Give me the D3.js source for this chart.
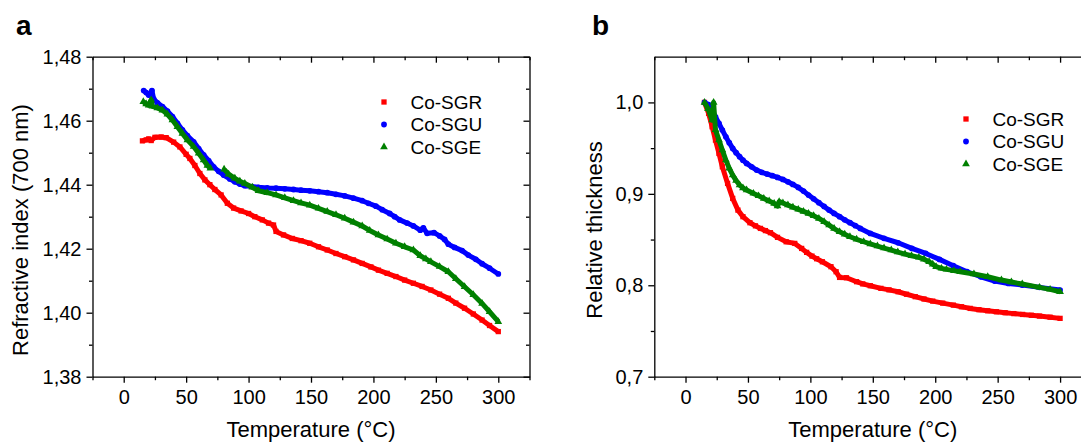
<!doctype html>
<html>
<head>
<meta charset="utf-8">
<style>
    body { margin: 0; background: #fff; }
    svg text { font-family: "Liberation Sans", Arial, sans-serif; fill: #000; }
    .domain { stroke: #000; stroke-width: 1.3; }
    .tick line { stroke: #000; stroke-width: 1.3; }
</style>
<script src="https://d3js.org/d3.v7.min.js"></script>
</head>
<body>
<svg width="1081" height="442"></svg>
<script>

// ---- data: [temperature (°C), value] ----
var seriesNames = ["Co-SGR", "Co-SGU", "Co-SGE"];
var seriesColors = ["#ff0000", "#0000ff", "#008000"];
var seriesShapes = ["square", "circle", "triangle"];

var xTicks = [0, 50, 100, 150, 200, 250, 300];
var yTicksA = [1.38, 1.40, 1.42, 1.44, 1.46, 1.48];
var yTicksB = [0.7, 0.8, 0.9, 1.0];

// panel a: refractive index at 700 nm
var indexSGR = [[15,1.4537],[18,1.4540],[20,1.4543],[22,1.4538],[25,1.4548],[30,1.4549],[34,1.4547],[40,1.4533],
    [45,1.4518],[50,1.4495],[53,1.4482],[57,1.4460],[61,1.4435],[65,1.4415],[69,1.4400],[73,1.4385],[78,1.4368],
    [83,1.4342],[88,1.4327],[94,1.4318],[100,1.4310],[105,1.4300],[111,1.4290],[116,1.4280],[120,1.4274],[122,1.4254],
    [128,1.4243],[135,1.4232],[142,1.4225],[149,1.4217],[156,1.4206],[163,1.4196],[170,1.4185],[177,1.4175],[184,1.4165],
    [191,1.4154],[198,1.4143],[204,1.4133],[211,1.4123],[218,1.4113],[225,1.4102],[232,1.4092],[239,1.4082],[246,1.4071],
    [253,1.4058],[260,1.4045],[266,1.4030],[273,1.4014],[280,1.3996],[287,1.3977],[293,1.3960],[300,1.3941]];
var indexSGU = [[16,1.4694],[18,1.4688],[20,1.4680],[22.6,1.4694],[24,1.4668],[27,1.4656],[31,1.4644],[35,1.4630],
    [39,1.4613],[43,1.4592],[47,1.4571],[51,1.4553],[56,1.4534],[60,1.4513],[64,1.4493],[68,1.4475],[72,1.4456],
    [76,1.4442],[80,1.4430],[85,1.4418],[89,1.4409],[93,1.4402],[97,1.4397],[103,1.4394],[108,1.4392],[115,1.4390],
    [122,1.4389],[129,1.4387],[136,1.4385],[142,1.4383],[149,1.4381],[156,1.4378],[163,1.4375],[170,1.4370],[177,1.4365],
    [184,1.4358],[191,1.4350],[196,1.4342],[202,1.4333],[207,1.4322],[213,1.4310],[217,1.4300],[221,1.4290],[227,1.4280],
    [232,1.4271],[237.5,1.4258],[240,1.4265],[243,1.4248],[248.5,1.4250],[253,1.4240],[257,1.4229],[260,1.4214],
    [265,1.4204],[271,1.4194],[276,1.4180],[282,1.4167],[287,1.4153],[293,1.4139],[300,1.4121]];
var indexSGE = [[15.7,1.4659],[18,1.4652],[20,1.4648],[22,1.4665],[23,1.4645],[27,1.4640],[31,1.4633],[35,1.4620],
    [39,1.4602],[43,1.4581],[47,1.4560],[51,1.4540],[56,1.4519],[60,1.4498],[64,1.4477],[67,1.4460],[69.4,1.4451],
    [74,null],[80.4,1.4448],[84,1.4433],[89,1.4420],[93,1.4411],[97,1.4404],[103,1.4392],[108,1.4381],[115,1.4375],
    [122,1.4368],[129,1.4359],[136,1.4350],[142,1.4343],[149,1.4336],[156,1.4326],[163,1.4316],[170,1.4306],[177,1.4295],
    [184,1.4283],[191,1.4271],[197,1.4257],[204,1.4243],[211,1.4230],[218,1.4217],[225,1.4206],[232,1.4196],[237.5,1.4178],
    [242,1.4168],[246,1.4159],[253,1.4144],[260,1.4128],[266,1.4106],[273,1.4081],[280,1.4056],[287,1.4029],[293,1.4003],
    [300,1.3972]];

// panel b: relative thickness
var thickSGR = [[15.2,1.0],[18.5,0.988],[21.3,0.9734],[24,0.9588],[26.8,0.9442],[29.5,0.9296],[33.7,0.9114],[37.8,0.895],
    [42,0.8822],[46,0.875],[51.6,0.8684],[56,0.8650],[60,0.8622],[64,0.8598],[68,0.8575],[73.7,0.8524],[80.6,0.8476],
    [87.5,0.8458],[93,0.8403],[97,0.8360],[101.3,0.8319],[105,0.8290],[109.6,0.8257],[116.5,0.8203],[120.6,0.8148],
    [123.4,0.8086],[128.9,0.8082],[137,0.8039],[142,0.8015],[148,0.7995],[156.5,0.7966],[163,0.7950],[170.3,0.7929],
    [177,0.7902],[184,0.7875],[191,0.7850],[198,0.7827],[206,0.7805],[214.5,0.7783],[221,0.7765],[228,0.7747],
    [235,0.7733],[242,0.7721],[249,0.7710],[256,0.7700],[263,0.7690],[270,0.7681],[277,0.7672],[283.5,0.7663],
    [292,0.7651],[300,0.7638]];
var thickSGU = [[15.2,1.0],[18.5,0.9975],[21.3,0.9916],[24,0.9843],[26.8,0.977],[29.5,0.9697],[32.3,0.9624],[35,0.956],
    [37.8,0.9497],[40.5,0.9450],[43.3,0.9406],[46,0.9368],[48.9,0.9333],[53,0.9295],[57,0.926],[61,0.9236],[65.4,0.9216],
    [69.5,0.9198],[73.7,0.918],[78,0.9157],[82,0.9132],[86,0.9103],[90.3,0.907],[94.5,0.9030],[98.5,0.8987],[102.6,0.8945],
    [106.8,0.8903],[111,0.8862],[115,0.8822],[119,0.8786],[123.4,0.875],[127.5,0.8716],[131.7,0.8684],[136,0.8652],
    [140,0.8622],[148,0.8567],[159,0.8513],[170.3,0.8465],[181.3,0.8403],[192.4,0.8348],[203.4,0.8283],[214.5,0.8214],
    [225.5,0.8148],[236.5,0.8093],[247.6,0.8046],[258.6,0.8020],[269.7,0.8002],[283.5,0.7977],[300,0.7948]];
var thickSGE = [[15.2,1.0],[18,0.993],[21.3,0.9807],[22.5,1.0],[24,0.9700],[26.8,0.9588],[29.5,0.9480],[32.3,0.9369],
    [35,0.9280],[37.8,0.9205],[40.5,0.9145],[43.3,0.9096],[46,0.9065],[48.9,0.9041],[54.4,0.9005],[58.5,0.8978],
    [62.7,0.895],[67,0.8922],[71,0.8895],[73.7,0.8866],[75,0.8914],[78,0.8900],[82,0.8877],[86,0.8853],[90.3,0.883],
    [94.5,0.8808],[98.5,0.8786],[102.6,0.8760],[106.8,0.8731],[111,0.8695],[115,0.8658],[119,0.8620],[123.4,0.8585],
    [127.5,0.8557],[131.7,0.8531],[137,0.8503],[142.7,0.8476],[148,0.8452],[153.7,0.8429],[159,0.8407],[164.8,0.8385],
    [170,0.8363],[175.8,0.8341],[181,0.8323],[186.9,0.8305],[191,0.8285],[195.1,0.8257],[198,0.8230],[200.7,0.8203],
    [205,0.8185],[209,0.8174],[215,0.8160],[220,0.8148],[231,0.8123],[242,0.8093],[253,0.8057],[261,0.8035],
    [269.7,0.8013],[283.5,0.7977],[292,0.7955],[300,0.7929]];

var svg = d3.select("svg");

function shapeSymbol(s) {
    if (s == "square") return d3.symbol().type(d3.symbolSquare).size(28);
    if (s == "circle") return d3.symbol().type(d3.symbolCircle).size(26);
    return d3.symbol().type(d3.symbolTriangle).size(26);
}

function drawPanel(p) {
    var width = 437, height = 320;
    var x = d3.scaleLinear().domain([-25, 325]).range([0, width]);
    var y = d3.scaleLinear().domain(p.yDomain).range([height, 0]);

    var g = svg.append("g").attr("transform", "translate(" + p.left + "," + p.top + ")");

    var minorX = d3.range(-25, 326, 25).filter(function(d) { return d % 50 != 0; });
    var minorY = p.yMinor;

    // minor ticks (outward on bottom/left, inward on top/right)
    g.append("g").attr("transform", "translate(0," + height + ")")
     .call(d3.axisBottom(x).tickValues(minorX).tickSize(3.5).tickFormat(""))
     .select(".domain").remove();
    g.append("g").call(d3.axisLeft(y).tickValues(minorY).tickSize(3.5).tickFormat(""))
     .select(".domain").remove();
    g.append("g").call(d3.axisTop(x).tickValues(minorX).tickSize(-3.5).tickFormat(""))
     .select(".domain").remove();
    g.append("g").attr("transform", "translate(" + width + ",0)")
     .call(d3.axisRight(y).tickValues(minorY).tickSize(-3.5).tickFormat(""))
     .select(".domain").remove();

    // major axes
    var xb = g.append("g").attr("transform", "translate(0," + height + ")")
     .call(d3.axisBottom(x).tickValues(xTicks).tickSize(6).tickSizeOuter(0).tickPadding(7));
    xb.selectAll("text").attr("font-size", "20px");
    var yl = g.append("g")
     .call(d3.axisLeft(y).tickValues(p.yTicks).tickSize(6).tickSizeOuter(0).tickPadding(5)
        .tickFormat(function(d) { return d3.format(p.fmt)(d).replace(".", ","); }));
    yl.selectAll("text").attr("font-size", "20px");
    g.append("g").call(d3.axisTop(x).tickValues(xTicks).tickSize(-6).tickSizeOuter(0).tickFormat(""));
    g.append("g").attr("transform", "translate(" + width + ",0)")
     .call(d3.axisRight(y).tickValues(p.yTicks).tickSize(-6).tickSizeOuter(0).tickFormat(""));
    g.selectAll("text").style("fill", "#000");

    // data
    var plot = g.append("g");
    p.series.forEach(function(data, i) {
        var line = d3.line()
            .defined(function(d) { return d[1] != null; })
            .x(function(d) { return x(d[0]); })
            .y(function(d) { return y(d[1]); });
        plot.append("path")
            .datum(data)
            .attr("d", line)
            .attr("fill", "none")
            .attr("stroke", seriesColors[i])
            .attr("stroke-width", 5)
            .attr("stroke-linejoin", "round");
        plot.selectAll(".pt" + i)
            .data(data.filter(function(d) { return d[1] != null; }))
            .enter().append("path")
            .attr("class", "pt" + i)
            .attr("transform", function(d) { return "translate(" + x(d[0]) + "," + y(d[1]) + ")"; })
            .attr("d", shapeSymbol(seriesShapes[i]))
            .attr("fill", seriesColors[i]);
    });

    // legend
    seriesNames.forEach(function(name, i) {
        var ly = p.legendY + i * 22.5;
        svg.append("path")
            .attr("transform", "translate(" + p.legendX + "," + ly + ")")
            .attr("d", shapeSymbol(seriesShapes[i]))
            .attr("fill", seriesColors[i]);
        svg.append("text")
            .attr("x", p.legendX + 26.5)
            .attr("y", ly)
            .attr("dy", "0.35em")
            .attr("font-size", "19px")
            .text(name);
    });

    // axis titles
    svg.append("text")
        .attr("x", p.left + width / 2)
        .attr("y", 437)
        .attr("text-anchor", "middle")
        .attr("font-size", "22px")
        .text("Temperature (°C)");
    svg.append("text")
        .attr("transform", "translate(" + p.yTitleX + ",230) rotate(-90)")
        .attr("text-anchor", "middle")
        .attr("font-size", "22px")
        .text(p.yTitle);

    svg.append("text")
        .attr("x", p.labelX)
        .attr("y", 35)
        .attr("font-size", "28px")
        .attr("font-weight", "bold")
        .text(p.label);
}

drawPanel({
    left: 92.5, top: 56.7, label: "a", labelX: 16,
    yDomain: [1.38, 1.48], yTicks: yTicksA, yMinor: [1.39, 1.41, 1.43, 1.45, 1.47], fmt: ".2f",
    series: [indexSGR, indexSGU, indexSGE],
    yTitle: "Refractive index (700 nm)", yTitleX: 28,
    legendX: 384, legendY: 102
});

drawPanel({
    left: 654.3, top: 56.7, label: "b", labelX: 592,
    yDomain: [0.7, 1.05], yTicks: yTicksB, yMinor: [0.75, 0.85, 0.95], fmt: ".1f",
    series: [thickSGR, thickSGU, thickSGE],
    yTitle: "Relative thickness", yTitleX: 602,
    legendX: 966, legendY: 119
});
</script>
</body>
</html>
